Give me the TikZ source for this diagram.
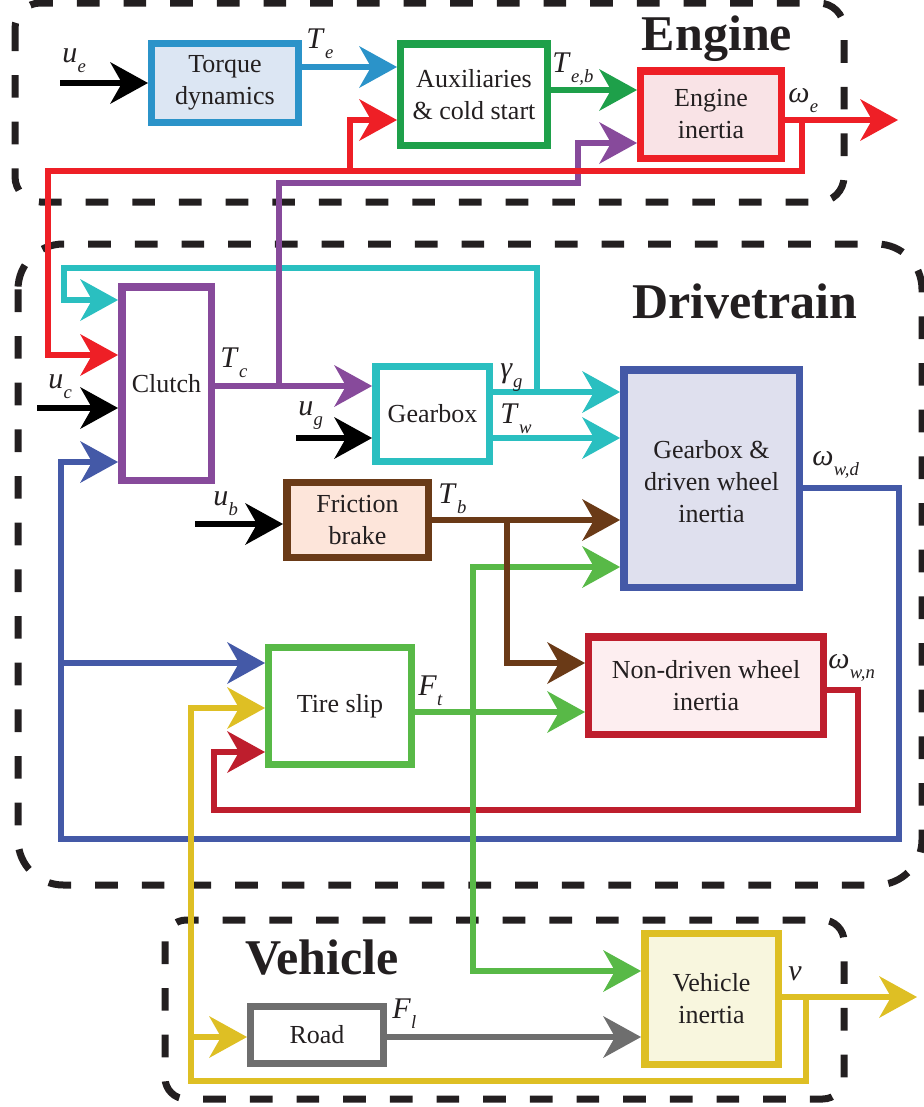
\documentclass[tikz,border=0pt]{standalone}
\usepackage{fontspec}
\setmainfont{Liberation Serif}
\usetikzlibrary{arrows.meta,calc}
\definecolor{ink}{HTML}{231F20}
\definecolor{cTq}{HTML}{2B93C9}\definecolor{fTq}{HTML}{DCE6F3}
\definecolor{cAux}{HTML}{1EA04A}
\definecolor{cRed}{HTML}{EE1F26}\definecolor{fRed}{HTML}{F9E3E6}
\definecolor{cPur}{HTML}{874A9B}
\definecolor{cCyan}{HTML}{2ABFC0}
\definecolor{cBlue}{HTML}{4459A7}\definecolor{fBlue}{HTML}{DFE0EE}
\definecolor{cBrown}{HTML}{6A3A17}\definecolor{fBrown}{HTML}{FDE5DA}
\definecolor{cCrim}{HTML}{BE1E2D}\definecolor{fCrim}{HTML}{FDEEF0}
\definecolor{cGreen}{HTML}{58B947}
\definecolor{cYel}{HTML}{DEBF24}\definecolor{fYel}{HTML}{F8F6DE}
\definecolor{cGray}{HTML}{6E6E6E}
\newcommand\boxfont{\fontsize{19.5}{24}\selectfont}
\newcommand\labfont{\fontsize{22.5}{24}\selectfont}
\newcommand\grpfont{\fontsize{37.5}{40}\selectfont\bfseries}
\newcommand\sy[2]{\textit{#1}\kern0.3pt\raisebox{-7.5pt}{\fontsize{14}{14}\selectfont\textit{#2}}}
\begin{document}
\begin{tikzpicture}[x=0.75pt,y=-0.75pt,
  blk/.style={draw, line width=5.6pt, inner sep=0pt, align=center, font=\boxfont, text=ink},
  grp/.style={draw=ink, line width=5.25pt, dash pattern=on 17pt off 18pt},
  grplab/.style={font=\grpfont, text=ink, anchor=base, inner sep=0pt},
  lab/.style={font=\labfont, text=ink, anchor=base west, inner sep=0pt},
  conn/.style={line width=4.9pt},
  arr/.style={-{Stealth[length=28.5pt,width=31.5pt,inset=9pt,line width=0pt]}}]
\useasboundingbox (0,0) rectangle (924,1107);

% group frames
\draw[grp, rounded corners=19pt] (15,3) rectangle (844,202);
\draw[grp, rounded corners=34pt] (18,244) rectangle (922,885);
\draw[grp, rounded corners=16pt] (165,920) rectangle (844,1099);
\node[grplab] (gEngine) at (717,50) {Engine};
\node[grplab] (gDrive) at (745,318) {Drivetrain};
\node[grplab] (gVeh) at (322,974) {Vehicle};

% blocks
\node[blk, draw=cTq, fill=fTq, minimum width=109.9pt, minimum height=58.9pt] (torque) at (225,83) {Torque\\dynamics};
\node[blk, draw=cAux, fill=white, minimum width=109.9pt, minimum height=76.1pt] (aux) at (474,94.5) {Auxiliaries\\\& cold start};
\node[blk, draw=cRed, fill=fRed, minimum width=105.4pt, minimum height=65.6pt] (engine) at (711,114.5) {Engine\\inertia};
\node[blk, draw=cPur, fill=white, minimum width=67.1pt, minimum height=145.1pt] (clutch) at (166.5,383.5) {Clutch};
\node[blk, draw=cCyan, fill=white, minimum width=85.1pt, minimum height=70.9pt] (gearbox) at (432.5,414) {Gearbox};
\node[blk, draw=cBlue, fill=fBlue, minimum width=131.6pt, minimum height=163.1pt] (gbdw) at (711.5,478.5) {\raisebox{-4pt}[\height][\depth]{\begin{tabular}{@{}c@{}}Gearbox \&\\driven wheel\\inertia\end{tabular}}};
\node[blk, draw=cBrown, fill=fBrown, minimum width=106.1pt, minimum height=55.9pt] (brake) at (357.5,520) {Friction\\brake};
\node[blk, draw=cCrim, fill=fCrim, minimum width=175.9pt, minimum height=73.1pt] (nondriven) at (706,685.5) {Non-driven wheel\\inertia};
\node[blk, draw=cGreen, fill=white, minimum width=106.9pt, minimum height=87.4pt] (tire) at (340,706) {Tire slip};
\node[blk, draw=cGray, fill=white, minimum width=99.4pt, minimum height=42.4pt] (road) at (317,1035) {Road};
\node[blk, draw=cYel, fill=fYel, minimum width=100.1pt, minimum height=97.9pt] (vehicle) at (711.5,999) {Vehicle\\inertia};

% free ends and junctions
\coordinate (ue) at (60,83);
\coordinate (uc) at (37,408);
\coordinate (ug) at (296,438);
\coordinate (ub) at (195,524);
\coordinate (weout) at (898,120);
\coordinate (vout) at (917,997);
\coordinate (jRed) at (802,120);
\coordinate (jRed2) at (350,171);
\coordinate (jPur) at (279,386);
\coordinate (jCyan) at (537,392);
\coordinate (jBlue) at (61,663);
\coordinate (jBrown) at (507,520);
\coordinate (jGreen) at (473,712);
\coordinate (jYel) at (806,997);
\coordinate (jYel2) at (191,1037);

% blue
\draw[conn, cBlue, arr] (gbdw.east |- 0,488) -- (899,488) -- (899,839) -- (61,839) -- (61,462) -- (clutch.west |- 0,462);
\draw[conn, cBlue, arr] (jBlue) -- (tire.west |- jBlue);
% crimson
\draw[conn, cCrim, arr] (nondriven.east |- 0,690) -- (858,690) -- (858,810) -- (214,810) -- (214,752) -- (tire.west |- 0,752);
% cyan
\draw[conn, cCyan, arr] (gearbox.east |- jCyan) -- (gbdw.west |- jCyan);
\draw[conn, cCyan, arr] (jCyan) -- (537,268) -- (64,268) -- (64,300) -- (clutch.west |- 0,300);
\draw[conn, cCyan, arr] (gearbox.east |- 0,438) -- (gbdw.west |- 0,438);
% purple
\draw[conn, cPur, arr] (clutch.east |- jPur) -- (gearbox.west |- jPur);
\draw[conn, cPur, arr] (jPur) -- (279,183) -- (578,183) -- (578,143) -- (engine.west |- 0,143);
% red
\draw[conn, cRed, arr] (engine.east |- jRed) -- (weout);
\draw[conn, cRed, arr] (jRed) -- (802,171) -- (48,171) -- (48,355) -- (clutch.west |- 0,355);
\draw[conn, cRed, arr] (jRed2) -- (350,120) -- (aux.west |- 0,120);
% engine chain
\draw[conn, cTq, arr] (torque.east |- 0,67) -- (aux.west |- 0,67);
\draw[conn, cAux, arr] (aux.east |- 0,90) -- (engine.west |- 0,90);
% green
\draw[conn, cGreen, arr] (tire.east |- jGreen) -- (nondriven.west |- jGreen);
\draw[conn, cGreen, arr] (jGreen) -- (473,567) -- (gbdw.west |- 0,567);
\draw[conn, cGreen, arr] (jGreen) -- (473,971) -- (vehicle.west |- 0,971);
% brown
\draw[conn, cBrown, arr] (brake.east |- jBrown) -- (gbdw.west |- jBrown);
\draw[conn, cBrown, arr] (jBrown) -- (507,663) -- (nondriven.west |- 0,663);
% yellow
\draw[conn, cYel, arr] (vehicle.east |- jYel) -- (vout);
\draw[conn, cYel, arr] (jYel) -- (806,1081) -- (191,1081) -- (191,708) -- (tire.west |- 0,708);
\draw[conn, cYel, arr] (jYel2) -- (road.west |- jYel2);
% gray
\draw[conn, cGray, arr] (road.east |- 0,1037) -- (vehicle.west |- 0,1037);
% inputs
\draw[conn, black, arr] (ue) -- (torque.west |- ue);
\draw[conn, black, arr] (uc) -- (clutch.west |- uc);
\draw[conn, black, arr] (ug) -- (gearbox.west |- ug);
\draw[conn, black, arr] (ub) -- (brake.west |- ub);

% labels
\node[lab] (lue) at (62,62) {\sy{u}{e}};
\node[lab] (lTe) at (306,48) {\sy{T}{e}};
\node[lab] (lTeb) at (552,72) {\sy{T}{e,b}};
\node[lab] (lwe) at (788,102) {\sy{ω}{e}};
\node[lab] (lTc) at (220,367) {\sy{T}{c}};
\node[lab] (luc) at (48,388) {\sy{u}{c}};
\node[lab] (lug) at (298,415) {\sy{u}{g}};
\node[lab] (lgg) at (500,377) {\sy{γ}{g}};
\node[lab] (lTw) at (500,423) {\sy{T}{w}};
\node[lab] (lTb) at (438,503) {\sy{T}{b}};
\node[lab] (lub) at (213,505) {\sy{u}{b}};
\node[lab] (lwwd) at (812,465) {\sy{ω}{w,d}};
\node[lab] (lwwn) at (828,668) {\sy{ω}{w,n}};
\node[lab] (lFt) at (418,695) {\sy{F}{t}};
\node[lab] (lFl) at (392,1018) {\sy{F}{l}};
\node[lab] (lv) at (788,980) {\textit{v}};
\end{tikzpicture}
\end{document}
